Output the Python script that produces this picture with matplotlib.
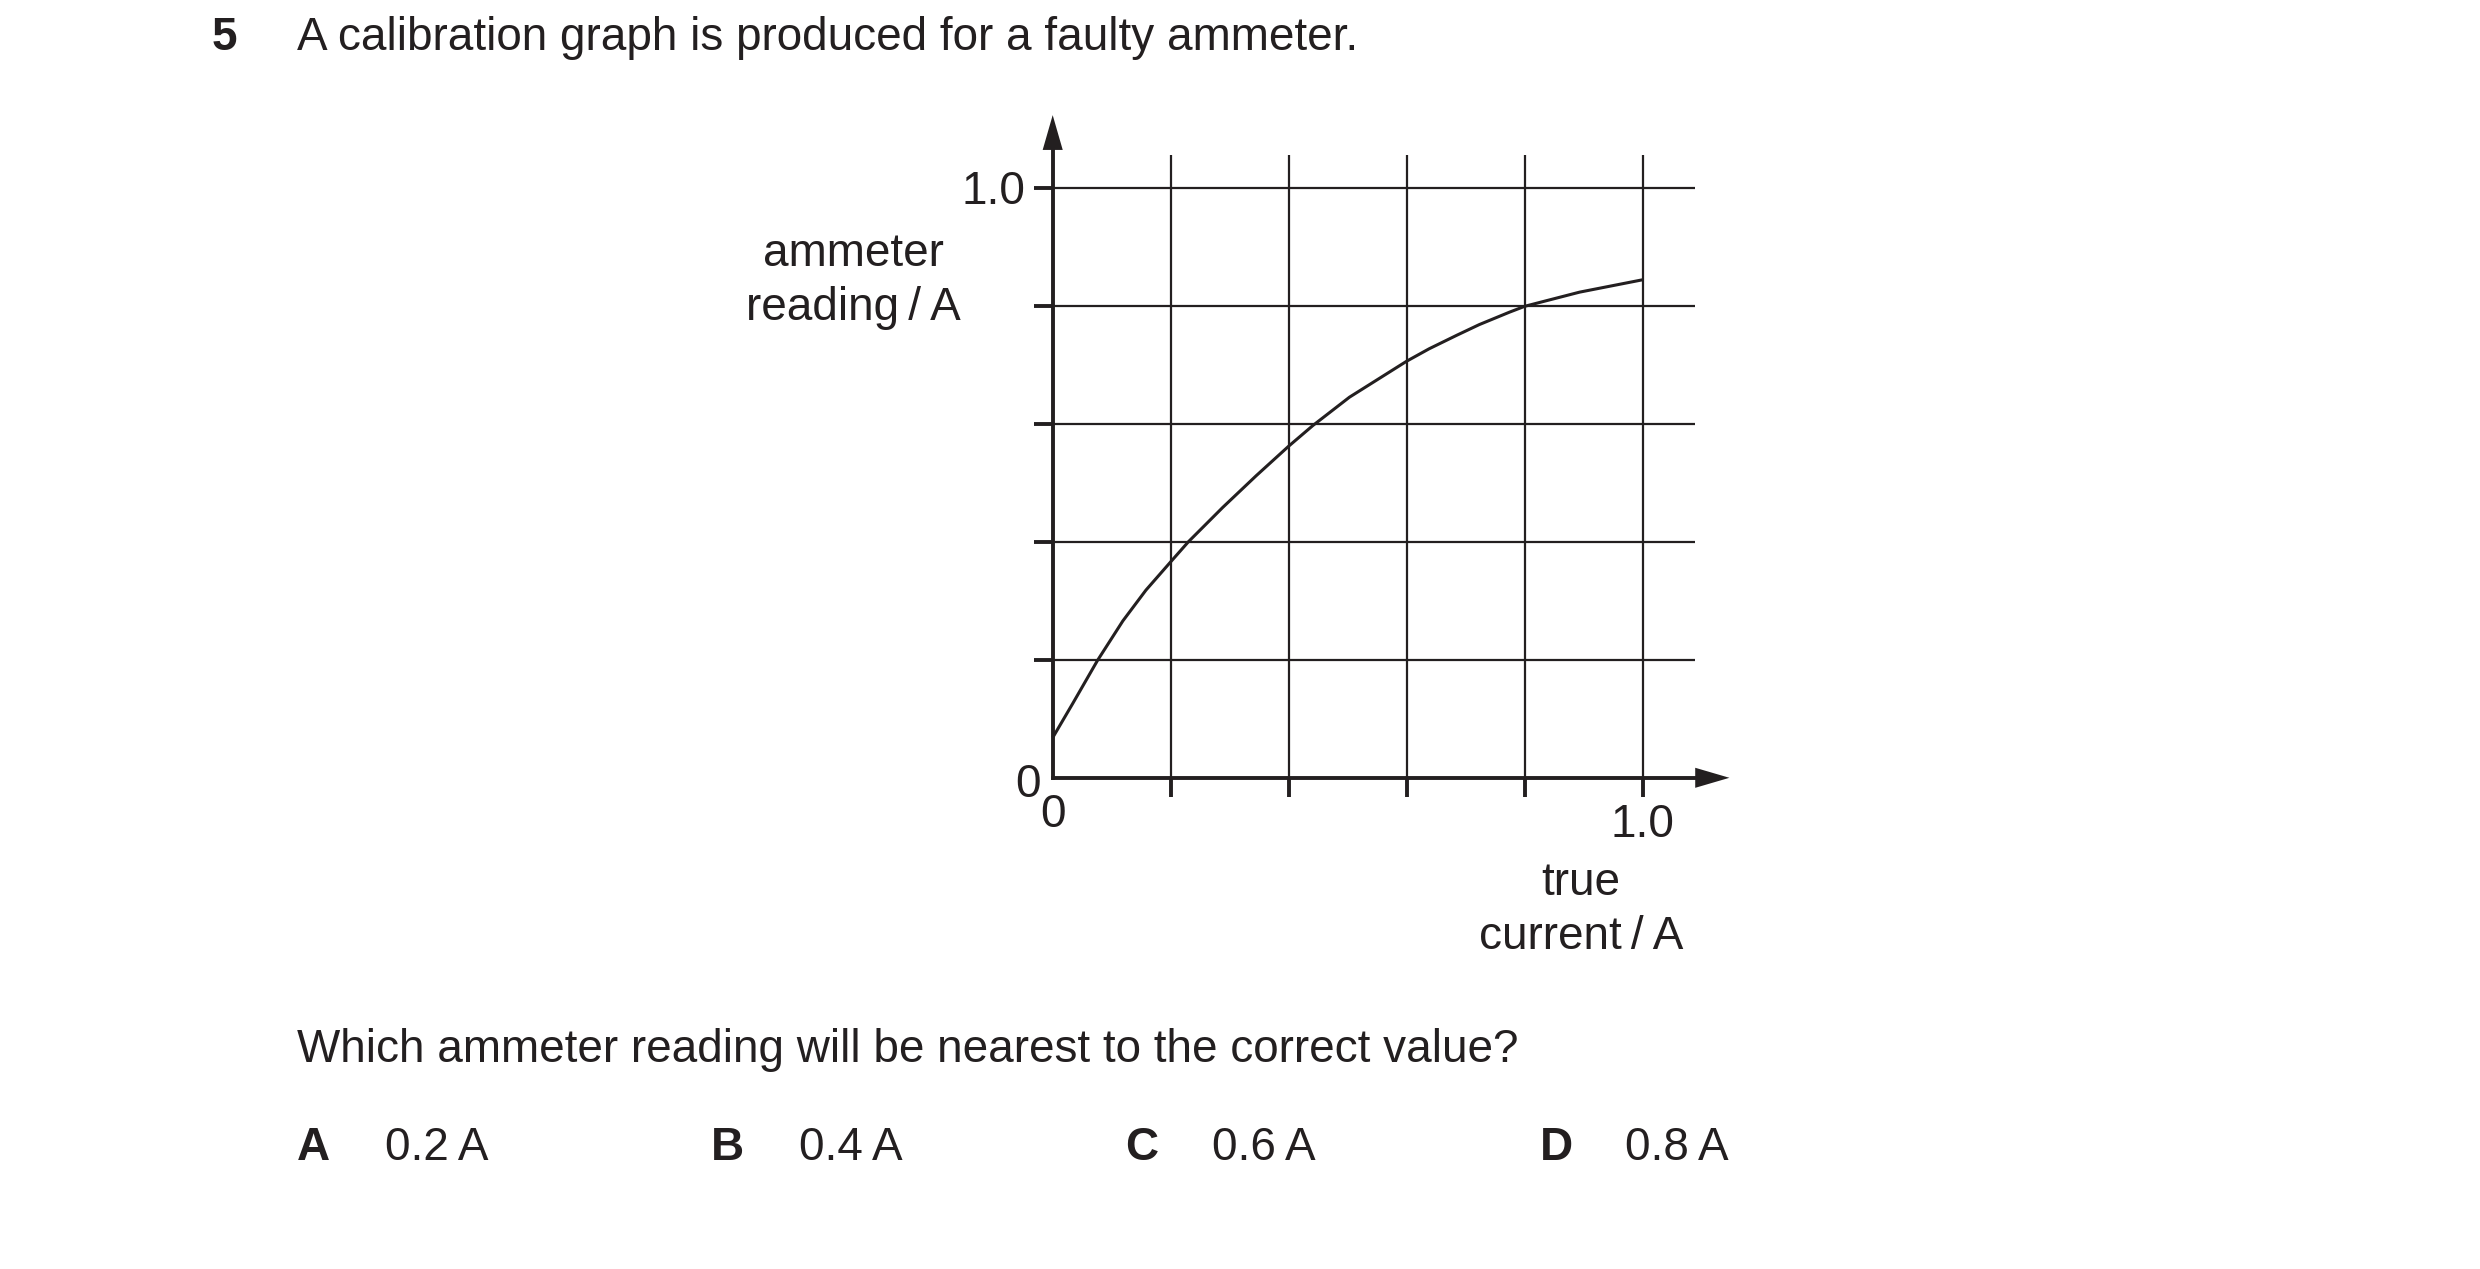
import matplotlib
matplotlib.use("Agg")
import matplotlib.pyplot as plt

# ---- data ----
true_current = [0.0, 0.034, 0.076, 0.119, 0.158, 0.2, 0.230, 0.288, 0.345,
                0.4, 0.441, 0.503, 0.6, 0.638, 0.685, 0.723, 0.774, 0.8,
                0.893, 1.0]
ammeter_reading = [0.068, 0.126, 0.199, 0.266, 0.318, 0.366, 0.400, 0.458,
                   0.512, 0.562, 0.597, 0.645, 0.706, 0.727, 0.750, 0.768,
                   0.789, 0.799, 0.823, 0.844]
grid_ticks = [0.0, 0.2, 0.4, 0.6, 0.8, 1.0]
y_tick_labels = {"0": 0.0, "1.0": 1.0}
x_tick_labels = {"0": 0.0, "1.0": 1.0}
question_number = "5"
title_text = "A calibration graph is produced for a faulty ammeter."
question_text = "Which ammeter reading will be nearest to the correct value?"
option_letters = ["A", "B", "C", "D"]
option_values = ["0.2\u2009A", "0.4\u2009A", "0.6\u2009A", "0.8\u2009A"]
y_label = ["ammeter", "reading\u2009/\u2009A"]
x_label = ["true", "current\u2009/\u2009A"]

# ---- figure ----
W, H, DPI = 2480, 1269, 200
INK = "#231f20"
FS = 16.5
plt.rcParams["font.family"] = ["Liberation Sans", "DejaVu Sans"]

fig = plt.figure(figsize=(W / DPI, H / DPI), dpi=DPI)
fig.patch.set_facecolor("white")


def fx(px):
    return px / W


def fy(py):
    return 1 - py / H


# axes mapped so that data [0,1]x[0,1] sits on the drawn grid
x0, x1 = 1052.7, 1642.7
y0, y1 = 777.8, 187.7
ax = fig.add_axes([fx(x0), fy(y0), (x1 - x0) / W, (y0 - y1) / H])
ax.set_xlim(0, 1)
ax.set_ylim(0, 1)
ax.axis("off")

grid_top = 1.056
grid_right = 1.089
tick_len = 0.032
grid_lw = 0.8
axis_lw = 1.4

# grid lines
for v in grid_ticks[1:]:
    ax.plot([v, v], [0, grid_top], color=INK, lw=grid_lw, clip_on=False,
            solid_capstyle="butt")
for v in grid_ticks[1:]:
    ax.plot([0, grid_right], [v, v], color=INK, lw=grid_lw, clip_on=False,
            solid_capstyle="butt")

# ticks
for v in grid_ticks[1:]:
    ax.plot([v, v], [0, -tick_len], color=INK, lw=axis_lw, clip_on=False,
            solid_capstyle="butt")
    ax.plot([0, -tick_len], [v, v], color=INK, lw=axis_lw, clip_on=False,
            solid_capstyle="butt")

# axes with arrowheads
ax.plot([0, 1.10], [0, 0], color=INK, lw=axis_lw, clip_on=False,
        solid_capstyle="projecting")
ax.plot([0, 0], [0, 1.075], color=INK, lw=axis_lw, clip_on=False,
        solid_capstyle="projecting")
hw = 0.017
ax.fill([1.089, 1.147, 1.089], [-hw, 0, hw], color=INK, clip_on=False, lw=0)
ax.fill([-hw, 0, hw], [1.064, 1.123, 1.064], color=INK, clip_on=False, lw=0)

# curve
ax.plot(true_current, ammeter_reading, color=INK, lw=1.1, clip_on=False,
        solid_capstyle="butt", solid_joinstyle="round")

# tick labels
ax.text(-0.047, y_tick_labels["1.0"] - 0.027, "1.0", ha="right", va="baseline",
        fontsize=FS, color=INK)
ax.text(-0.0424, y_tick_labels["0"] - 0.032, "0", ha="center", va="baseline",
        fontsize=FS, color=INK)
ax.text(x_tick_labels["0"], -0.083, "0", ha="center", va="baseline",
        fontsize=FS, color=INK)
ax.text(x_tick_labels["1.0"], -0.100, "1.0", ha="center", va="baseline",
        fontsize=FS, color=INK)

# axis labels (figure pixel positions)
fig.text(fx(853), fy(266), y_label[0], ha="center", va="baseline",
         fontsize=FS, color=INK)
fig.text(fx(853), fy(320), y_label[1], ha="center", va="baseline",
         fontsize=FS, color=INK)
fig.text(fx(1581), fy(895), x_label[0], ha="center", va="baseline",
         fontsize=FS, color=INK)
fig.text(fx(1581), fy(949), x_label[1], ha="center", va="baseline",
         fontsize=FS, color=INK)

# question text
fig.text(fx(212), fy(50), question_number, ha="left", va="baseline",
         fontsize=FS, fontweight="bold", color=INK)
fig.text(fx(297), fy(50), title_text, ha="left", va="baseline",
         fontsize=FS, color=INK)
fig.text(fx(297), fy(1062), question_text, ha="left", va="baseline",
         fontsize=FS, color=INK)

letter_x = [297, 711, 1125, 1540]
value_x = [385, 799, 1212, 1625]
for lx, vx, letter, val in zip(letter_x, value_x, option_letters, option_values):
    fig.text(fx(lx), fy(1160), letter, ha="left", va="baseline",
             fontsize=FS, fontweight="bold", color=INK)
    fig.text(fx(vx), fy(1160), val, ha="left", va="baseline",
             fontsize=FS, color=INK)

fig.savefig("out.png", dpi=DPI, facecolor="white")
